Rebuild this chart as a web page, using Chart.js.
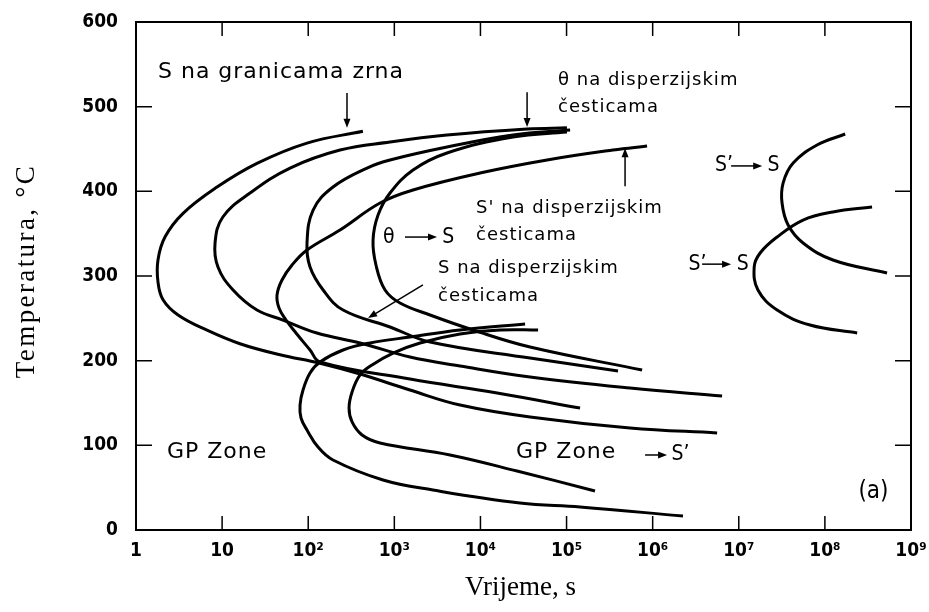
<!DOCTYPE html>
<html>
<head>
<meta charset="utf-8">
<script src="https://cdn.jsdelivr.net/npm/chart.js@4.4.1/dist/chart.umd.min.js"></script>
<style>
  html, body { margin:0; padding:0; background:#fff; }
  #wrap { width:929px; height:612px; }
</style>
</head>
<body>
<div id="wrap"><canvas id="chart"></canvas></div>
<script>
// ── Axes ──────────────────────────────────────────────────────
const xTicks      = [1, 10, 100, 1e3, 1e4, 1e5, 1e6, 1e7, 1e8, 1e9];
const xTickLabels = ['1', '10', '10²', '10³', '10⁴', '10⁵', '10⁶', '10⁷', '10⁸', '10⁹'];
const yTicks      = [0, 100, 200, 300, 400, 500, 600];
const xTitle = 'Vrijeme, s';
const yTitle = 'Temperatura, °C';

// ── C-curves, [time s, temperature °C] ─
const sGranice = [[432,471],[96.8,457],[25.4,433],[8.73,405],[3.52,374],[2.17,346],[1.8,319],[1.8,293],
  [2.06,272],[3.08,254],[6.68,236],[16.1,220],[47,207],[137,197],[400,184.2],[1520,165.3],[5800,147.6],
  [37700,133.5],[546000,120.5],[5.6e6,114.6]];
const thetaDisp = [[101000,475],[34800,473.6],[4090,466.5],[891,458.3],[234,448.8],[61.5,427.5],[21.1,398],
  [10.2,369.7],[8.28,339],[8.95,310.6],[13.4,283.5],[25.4,259.8],[50.9,248],[126,232.7],[400,220.9],
  [1520,204.3],[5800,193.7],[37700,180.7],[546000,167.7],[6.4e6,158.3]];
const sPrimeDisp = [[861000,453.5],[347000,448.8],[59400,437],[9890,421.6],[1650,401.6],[682,386.2],[234,354.3],
  [96.8,330.7],[64.9,313],[49.6,295.3],[43.4,277.5],[45.8,262.2],[55.2,248],[72.1,232.7],[105,212.6],
  [137,198.4],[1520,178.3],[15600,161.8],[143500,144.1]];
const curveD = [[110000,472.4],[23900,466.5],[4090,452.3],[891,437],[482,427.5],[194,405.1],[114,377.9],
  [96.8,339],[105,310.6],[149,283.5],[254,259.8],[891,239.8],[2600,222],[37700,203.1],[396000,187.8]];
const curveE = [[101000,470],[23900,464.2],[4090,445.3],[1650,425.2],[891,398],[647,372],[566,342.5],[612,313],
  [780,283.5],[1164,268.1],[2600,253.9],[8200,236.2],[37700,216.1],[754000,189]];
const gpOuter = [[33000,243.3],[5800,236.2],[1520,227.9],[522,220.9],[254,212.6],[137,198.4],[105,185.4],
  [87,165.3],[80.3,147.6],[82.5,132.3],[96.8,118.1],[130,98],[194,82.7],[739,59.1],[2810,47.2],[28800,31.9],
  [143500,27.2],[2.25e6,16.5]];
const gpInner = [[46700,236.2],[16900,236.2],[5800,231.5],[1990,220.9],[966,209],[551,194.9],[400,183.1],
  [323,163],[298,144.1],[323,127.6],[422,112.2],[682,102.8],[4430,88.6],[26600,69.7],[214000,46.1]];
const sPrimeToSHigh = [[1.72e8,467.7],[8.11e7,454.7],[4.28e7,433.4],[3.27e7,409.8],[3.18e7,386.2],
  [3.74e7,360.2],[5.58e7,339],[1.24e8,318.9],[5.27e8,303.5]];
const sPrimeToSLow = [[3.53e8,381.5],[1.24e8,375.6],[5.58e7,366.1],[2.79e7,346.1],[1.77e7,327.2],
  [1.51e7,310.6],[1.67e7,283.5],[2.79e7,259.8],[6.73e7,242.1],[2.37e8,232.7]];

const curves = [sGranice, thetaDisp, sPrimeDisp, curveD, curveE, gpOuter, gpInner, sPrimeToSHigh, sPrimeToSLow];

// ── Fonts ─────────────────────────────────────────────────────
const F_NARROW = "'DejaVu Sans Condensed', 'Liberation Sans Narrow', sans-serif";
const F_LABEL  = "'DejaVu Sans', 'Noto Sans', sans-serif";
const F_SERIF  = "'Liberation Serif', 'DejaVu Serif', serif";

// ── Annotations (anchor in data units) ────────────────────────
const notes = [
  { text:'S na granicama zrna', at:[1.8,541],     size:22 },
  { text:'θ na disperzijskim',  at:[79600,531.5], size:18 },
  { text:'česticama',           at:[79600,499.6], size:18 },
  { text:"S' na disperzijskim", at:[8890,380.3],  size:18 },
  { text:'česticama',           at:[8890,348.4],  size:18 },
  { text:'S na disperzijskim',  at:[3220,309.4],  size:18 },
  { text:'česticama',           at:[3220,276.4],  size:18 },
  { text:'GP Zone',             at:[2.29,92],     size:22 },
  { text:'GP Zone',             at:[25900,92],    size:22 },
];
const narrowNotes = [
  { text:'θ',  at:[740,346],     size:21 }, { text:'S',  at:[3600,346],   size:21 },
  { text:'S’', at:[5.3e6,430],   size:21 }, { text:'S',  at:[2.15e7,430], size:21 },
  { text:'S’', at:[2.6e6,314],   size:21 }, { text:'S',  at:[9.5e6,314],  size:21 },
  { text:'S’', at:[1.65e6,88.6], size:21 },
  { text:'(a)', at:[2.45e8,45],  size:24 },
];
const arrows = [
  [[282,516],[282,475]],
  [[34800,517],[34800,476]],
  [[478000,406],[478000,451]],
  [[2150,289.4],[495,250.4]],
  [[1330,346],[3130,346]],
  [[8.14e6,430],[1.87e7,430]],
  [[3.75e6,314],[8.14e6,314]],
  [[816000,88.6],[1.47e6,88.6]],
];

const decor = {
  id:'decor',
  afterDraw(chart) {
    const { ctx, chartArea:a, scales:{ x, y } } = chart;
    const P = p => [x.getPixelForValue(p[0]), y.getPixelForValue(p[1])];
    ctx.save();
    ctx.strokeStyle = '#000'; ctx.fillStyle = '#000';
    // frame
    ctx.lineWidth = 2;
    ctx.strokeRect(a.left, a.top, a.right - a.left, a.bottom - a.top);
    // inward ticks on all four sides
    ctx.lineWidth = 1.5;
    ctx.beginPath();
    xTicks.slice(1, -1).forEach(v => {
      const px = x.getPixelForValue(v);
      ctx.moveTo(px, a.bottom); ctx.lineTo(px, a.bottom - 14);
      ctx.moveTo(px, a.top);    ctx.lineTo(px, a.top + 14);
    });
    yTicks.slice(1, -1).forEach(v => {
      const py = y.getPixelForValue(v);
      ctx.moveTo(a.left, py);  ctx.lineTo(a.left + 16, py);
      ctx.moveTo(a.right, py); ctx.lineTo(a.right - 16, py);
    });
    ctx.stroke();
    // axis titles
    ctx.textBaseline = 'middle'; ctx.textAlign = 'center';
    ctx.font = `27px ${F_SERIF}`;
    ctx.fillText(xTitle, (a.left + a.right) / 2 - 3, 588);
    ctx.save();
    ctx.translate(27, (a.top + a.bottom) / 2 - 5);
    ctx.rotate(-Math.PI / 2);
    ctx.letterSpacing = '2.4px';
    ctx.fillText(yTitle, 0, 0);
    ctx.restore();
    // text
    ctx.textAlign = 'left';
    ctx.letterSpacing = '1px';
    notes.forEach(n => {
      ctx.font = `${n.size}px ${F_LABEL}`;
      const [px, py] = P(n.at);
      ctx.fillText(n.text, px, py);
    });
    ctx.letterSpacing = '0px';
    narrowNotes.forEach(n => {
      ctx.font = `${n.size}px ${F_NARROW}`;
      const [px, py] = P(n.at);
      ctx.fillText(n.text, px, py);
    });
    // arrows
    ctx.lineWidth = 1.5;
    arrows.forEach(([from, to]) => {
      const [x0, y0] = P(from), [x1, y1] = P(to);
      const ang = Math.atan2(y1 - y0, x1 - x0), L = 9, W = 3.5;
      ctx.beginPath(); ctx.moveTo(x0, y0);
      ctx.lineTo(x1 - Math.cos(ang) * L * 0.8, y1 - Math.sin(ang) * L * 0.8); ctx.stroke();
      ctx.beginPath();
      ctx.moveTo(x1, y1);
      ctx.lineTo(x1 - Math.cos(ang) * L + Math.sin(ang) * W, y1 - Math.sin(ang) * L - Math.cos(ang) * W);
      ctx.lineTo(x1 - Math.cos(ang) * L - Math.sin(ang) * W, y1 - Math.sin(ang) * L + Math.cos(ang) * W);
      ctx.closePath(); ctx.fill();
    });
    ctx.restore();
  }
};

new Chart(document.getElementById('chart'), {
  type:'scatter',
  data:{ datasets: curves.map(c => ({
    data: c.map(p => ({ x:p[0], y:p[1] })),
    showLine:true, borderColor:'#000', borderWidth:3, pointRadius:0, tension:0.4, fill:false
  })) },
  options:{
    responsive:true, maintainAspectRatio:false, animation:false,
    layout:{ padding:{ top:22, right:18, left:0, bottom:0 } },
    plugins:{ legend:{ display:false }, tooltip:{ enabled:false } },
    scales:{
      x:{
        type:'logarithmic', min:1, max:1e9,
        afterBuildTicks: s => { s.ticks = xTicks.map(v => ({ value:v })); },
        afterFit: s => { s.height = 82; s.paddingLeft = 0; s.paddingRight = 0; },
        grid:{ display:false }, border:{ display:false },
        ticks:{ autoSkip:false, maxRotation:0, padding:2, color:'#000',
                font:{ family:F_NARROW, size:19, weight:'bold' },
                callback: v => xTickLabels[xTicks.indexOf(v)] ?? '' },
        title:{ display:false }
      },
      y:{
        min:0, max:600,
        afterBuildTicks: s => { s.ticks = yTicks.map(v => ({ value:v })); },
        afterFit: s => { s.width = 136; s.paddingTop = 0; s.paddingBottom = 0; },
        grid:{ display:false }, border:{ display:false },
        ticks:{ padding:10, color:'#000', font:{ family:F_NARROW, size:19, weight:'bold' } },
        title:{ display:false }
      }
    }
  },
  plugins:[decor]
});
</script>
</body>
</html>
